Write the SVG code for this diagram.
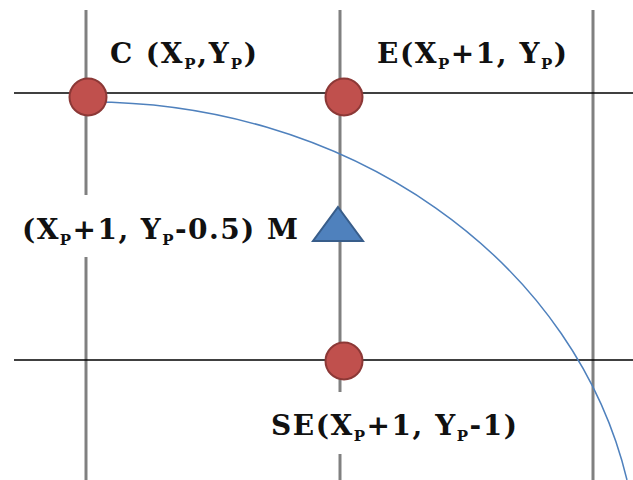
<svg xmlns="http://www.w3.org/2000/svg" width="633" height="480" viewBox="0 0 633 480">
  <style>
    .vline { stroke: #808080; stroke-width: 3; fill: none; }
    .hline { stroke: #000000; stroke-width: 1.6; fill: none; }
    .pt { fill: #C0504D; stroke: #8C3836; stroke-width: 2; }
    .tri { fill: #4F81BD; stroke: #385D8A; stroke-width: 2; stroke-linejoin: miter; }
    .curve { stroke: #4F81BD; stroke-width: 1.5; fill: none; }
    .lbl { font-family: "DejaVu Serif", "Liberation Serif", serif; font-weight: bold; font-size: 28px; fill: #111111; }
    .sub { font-size: 15px; }
  </style>
  <rect width="633" height="480" fill="#ffffff"/>
  <g id="grid">
    <line class="vline" x1="86" y1="10" x2="86" y2="195"/>
    <line class="vline" x1="86" y1="257" x2="86" y2="480"/>
    <line class="vline" x1="340" y1="10" x2="340" y2="392"/>
    <line class="vline" x1="340" y1="454" x2="340" y2="480"/>
    <line class="vline" x1="593" y1="10" x2="593" y2="480"/>
    <line class="hline" x1="14" y1="93" x2="633" y2="93"/>
    <line class="hline" x1="14" y1="360" x2="633" y2="360"/>
  </g>
  <g id="connectors">
    <path class="curve" d="M 88 102 A 548 474 0 0 1 627 480"/>
  </g>
  <g id="node-C">
    <circle class="pt" cx="88" cy="97" r="18.5"/>
    <text class="lbl" x="110" y="63" textLength="147" lengthAdjust="spacing">C (X<tspan class="sub" dy="6">P</tspan><tspan dy="-6">,Y</tspan><tspan class="sub" dy="6">P</tspan><tspan dy="-6">)</tspan></text>
  </g>
  <g id="node-E">
    <circle class="pt" cx="344" cy="97" r="18.5"/>
    <text class="lbl" x="377" y="63" textLength="190" lengthAdjust="spacing">E(X<tspan class="sub" dy="6">P</tspan><tspan dy="-6">+1, Y</tspan><tspan class="sub" dy="6">P</tspan><tspan dy="-6">)</tspan></text>
  </g>
  <g id="node-M">
    <polygon class="tri" points="338,207 363,241 313,241"/>
    <text class="lbl" x="22" y="239" textLength="276" lengthAdjust="spacing">(X<tspan class="sub" dy="6">P</tspan><tspan dy="-6">+1, Y</tspan><tspan class="sub" dy="6">P</tspan><tspan dy="-6">-0.5) M</tspan></text>
  </g>
  <g id="node-SE">
    <circle class="pt" cx="344" cy="361" r="18.5"/>
    <text class="lbl" x="271" y="435" textLength="246" lengthAdjust="spacing">SE(X<tspan class="sub" dy="6">P</tspan><tspan dy="-6">+1, Y</tspan><tspan class="sub" dy="6">P</tspan><tspan dy="-6">-1)</tspan></text>
  </g>
</svg>
